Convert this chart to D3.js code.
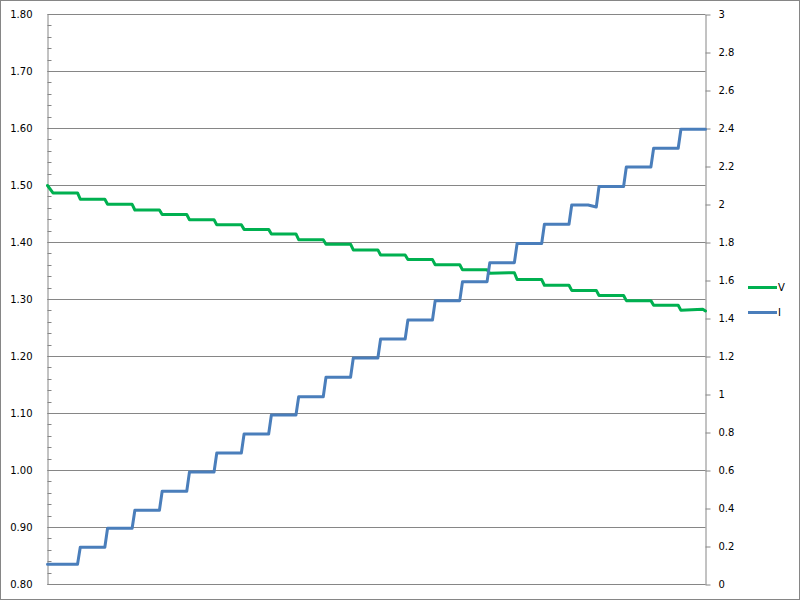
<!DOCTYPE html>
<html>
<head>
<meta charset="utf-8">
<script src="https://cdn.jsdelivr.net/npm/d3@7"></script>
<style>
  html, body { margin: 0; padding: 0; background: #fff; }
  svg { display: block; }
  text { font-family: "DejaVu Sans", Verdana, sans-serif; font-size: 10px; fill: #000; }
</style>
</head>
<body>
<svg id="chart" width="800" height="601"></svg>
<script>
// ---- data (sample index along the horizontal axis, no labels shown) ----
const sampleCount = 242;
const levelStart = [0, 12, 22, 32, 42, 52, 62, 72, 82, 92, 102, 112, 122, 132, 142, 152, 162, 172, 182, 192, 202, 212, 222, 232];
const levelEnd   = [11, 21, 31, 41, 51, 61, 71, 81, 91, 101, 111, 121, 131, 141, 151, 161, 171, 181, 191, 201, 211, 221, 231, 241];
const currentI = [0.106, 0.196, 0.296, 0.391, 0.491, 0.592, 0.692, 0.792, 0.892, 0.988, 1.091, 1.192, 1.292, 1.392, 1.494, 1.594, 1.694, 1.795, 1.896, 1.997, 2.095, 2.197, 2.296, 2.396];
const voltageV = [1.487, 1.476, 1.467, 1.457, 1.449, 1.440, 1.431, 1.423, 1.415, 1.405, 1.397, 1.387, 1.378, 1.370, 1.361, 1.352, 1.346, 1.335, 1.325, 1.316, 1.307, 1.298, 1.290, 1.281];
// individual samples that deviate from the plateau values
const voltageExtra = [[0, 1.500], [2, 1.487], [169, 1.347], [171, 1.347], [240, 1.283], [241, 1.280]];
const currentExtra = [[198, 1.997], [201, 1.987]];

const leftTicks = [0.80, 0.90, 1.00, 1.10, 1.20, 1.30, 1.40, 1.50, 1.60, 1.70, 1.80];
const rightTicks = [0, 0.2, 0.4, 0.6, 0.8, 1, 1.2, 1.4, 1.6, 1.8, 2, 2.2, 2.4, 2.6, 2.8, 3];
const seriesNames = ["V", "I"];
const seriesColors = ["#00B050", "#4A7EBB"];

// ---- build series points from plateaus ----
function buildPoints(levels, extras) {
  let pts = [];
  levels.forEach((v, k) => { pts.push([levelStart[k], v]); pts.push([levelEnd[k], v]); });
  const extraIdx = new Set(extras.map(e => e[0]));
  pts = pts.filter(p => !extraIdx.has(p[0])).concat(extras);
  pts.sort((a, b) => a[0] - b[0]);
  return pts;
}
const vPoints = buildPoints(voltageV, voltageExtra);
const iPoints = buildPoints(currentI, currentExtra);

// ---- layout ----
const svg = d3.select("#chart");
const plotL = 47.5, plotR = 705.5, plotT = 14.5, plotB = 584.5;
const x = d3.scaleLinear().domain([0, sampleCount - 1]).range([plotL, plotR]);
const yL = d3.scaleLinear().domain([0.8, 1.8]).range([plotB, plotT]);
const yR = d3.scaleLinear().domain([0, 3]).range([plotB, plotT]);
const grey = "#868686";
const crisp = v => Math.round(v - 0.5) + 0.5;

// outer border
svg.append("rect").attr("x", 0.5).attr("y", 0.5).attr("width", 799).attr("height", 599)
  .attr("fill", "#fff").attr("stroke", grey).attr("stroke-width", 1);

// gridlines
svg.append("g").selectAll("line").data(leftTicks).join("line")
  .attr("x1", plotL).attr("x2", plotR)
  .attr("y1", d => crisp(yL(d))).attr("y2", d => crisp(yL(d)))
  .attr("stroke", grey).attr("stroke-width", 1);

// left axis
const minor = d3.range(0, 51).map(i => 0.8 + i * 0.02);
const gL = svg.append("g").attr("transform", `translate(${plotL},0)`)
  .call(d3.axisLeft(yL).tickValues(leftTicks).tickSize(0).tickPadding(15).tickFormat(d3.format(".2f")));
gL.select(".domain").attr("stroke", grey);
gL.selectAll("text").style("font-family", "DejaVu Sans, Verdana, sans-serif").style("font-size", "10px").attr("fill", "#000");
gL.append("g").selectAll("line").data(minor).join("line")
  .attr("x1", 0).attr("x2", 4)
  .attr("y1", d => crisp(yL(d))).attr("y2", d => crisp(yL(d)))
  .attr("stroke", grey);

// right axis
const gR = svg.append("g").attr("transform", `translate(${plotR},0)`)
  .call(d3.axisRight(yR).tickValues(rightTicks).tickSizeInner(5).tickSizeOuter(0).tickPadding(8).tickFormat(d3.format("~g")));
gR.select(".domain").attr("stroke", grey);
gR.selectAll(".tick line").attr("stroke", grey);
gR.selectAll("text").style("font-family", "DejaVu Sans, Verdana, sans-serif").style("font-size", "10px").attr("fill", "#000");

// series lines
const lineV = d3.line().x(d => x(d[0])).y(d => yL(d[1]));
const lineI = d3.line().x(d => x(d[0])).y(d => yR(d[1]));
svg.append("path").datum(vPoints).attr("d", lineV)
  .attr("fill", "none").attr("stroke", seriesColors[0]).attr("stroke-width", 3)
  .attr("stroke-linejoin", "round").attr("stroke-linecap", "round");
svg.append("path").datum(iPoints).attr("d", lineI)
  .attr("fill", "none").attr("stroke", seriesColors[1]).attr("stroke-width", 3)
  .attr("stroke-linejoin", "round").attr("stroke-linecap", "round");

// legend
const lg = svg.append("g").selectAll("g").data(seriesNames).join("g")
  .attr("transform", (d, i) => `translate(748,${287.5 + i * 25})`);
lg.append("line").attr("x1", 0).attr("x2", 29).attr("y1", 0).attr("y2", 0)
  .attr("stroke", (d, i) => seriesColors[i]).attr("stroke-width", 3);
lg.append("text").attr("x", 30).attr("y", 0).attr("dy", "0.35em").text(d => d);
</script>
</body>
</html>
